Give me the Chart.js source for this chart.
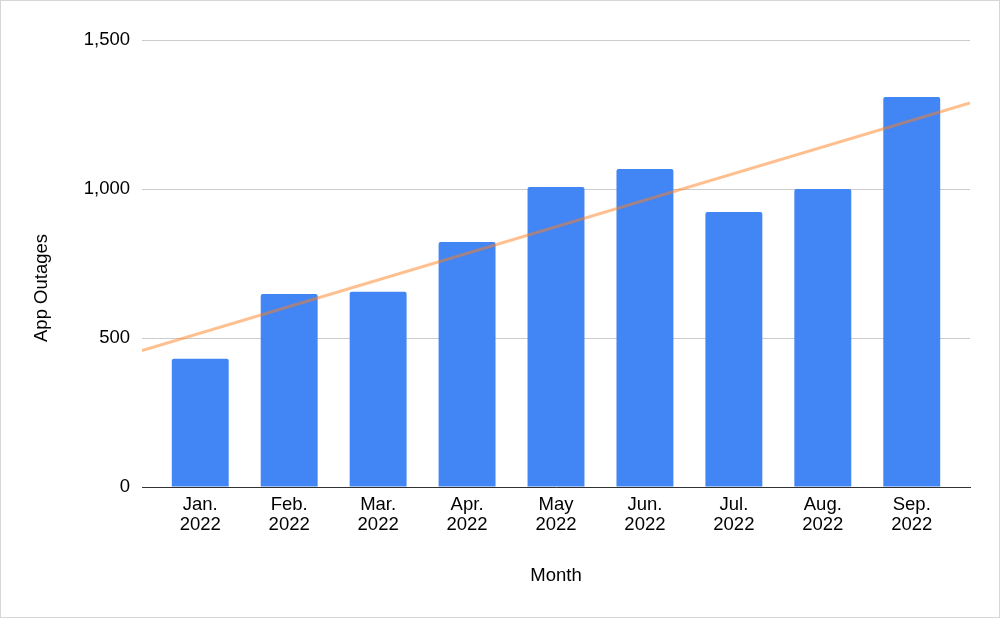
<!DOCTYPE html>
<html>
<head>
<meta charset="utf-8">
<script src="https://cdn.jsdelivr.net/npm/chart.js@4"></script>
<style>
  html, body { margin: 0; padding: 0; background: #fff; }
  .wrap { width: 1000px; height: 618px; box-sizing: border-box; border: 1px solid #d6d6d6; }
  canvas { display: block; }
</style>
</head>
<body>
<div class="wrap"><canvas id="outages" width="998" height="616"></canvas></div>
<script>
"use strict"

const months = [["Jan.", "2022"], ["Feb.", "2022"], ["Mar.", "2022"], ["Apr.", "2022"], ["May", "2022"],
                ["Jun.", "2022"], ["Jul.", "2022"], ["Aug.", "2022"], ["Sep.", "2022"]];
const outages = [430, 648, 655, 822, 1007, 1067, 923, 1000, 1309];
const yTicks = [0, 500, 1000, 1500];

// side room on the x axis, in month units
const xPad = 0.655;
const xMin = -xPad;
const xMax = outages.length - 1 + xPad;

// least squares trendline over the month index
function trend(values) {
    const n = values.length;
    const mx = (n - 1) / 2;
    const my = values.reduce((a, b) => a + b, 0) / n;
    let num = 0, den = 0;
    values.forEach((v, i) => { num += (i - mx) * (v - my); den += (i - mx) * (i - mx); });
    const slope = num / den;
    return x => my + slope * (x - mx);
}
const fit = trend(outages);
const trendPoints = [{ x: xMin, y: fit(xMin) }, { x: xMax, y: fit(xMax) }];
const barPoints = outages.map((v, i) => ({ x: i, y: v }));

Chart.defaults.font.family = "'Liberation Sans', Arial, sans-serif";
Chart.defaults.font.size = 18.5;
Chart.defaults.color = "#000";

// y title, centred on the plot plus the month labels
const yTitle = {
    id: "yTitle",
    afterDraw(chart) {
        const ctx = chart.ctx;
        const x = chart.scales.x;
        ctx.save();
        ctx.font = "18.5px 'Liberation Sans', Arial, sans-serif";
        ctx.fillStyle = "#000";
        ctx.textAlign = "center";
        ctx.textBaseline = "middle";
        ctx.translate(41, (chart.chartArea.top + x.top + 49) / 2);
        ctx.rotate(-Math.PI / 2);
        ctx.fillText("App Outages", 0, 0);
        ctx.restore();
    }
};

new Chart("outages", {
    data: {
        datasets: [{
            type: "line",
            data: trendPoints,
            borderColor: "rgba(255,128,30,0.5)",
            borderWidth: 3,
            pointRadius: 0,
            order: 0
        }, {
            type: "bar",
            data: barPoints,
            backgroundColor: "#4285f4",
            borderRadius: 2,
            borderSkipped: "bottom",
            grouped: false,
            barPercentage: 0.64,
            categoryPercentage: 1,
            order: 1
        }]
    },
    plugins: [yTitle],
    options: {
        responsive: false,
        animation: false,
        layout: { padding: { top: 39, right: 29, left: 0, bottom: 0 } },
        plugins: { legend: { display: false }, tooltip: { enabled: false } },
        scales: {
            x: {
                type: "linear",
                offset: false,
                min: xMin,
                max: xMax,
                afterBuildTicks: s => { s.ticks = months.map((m, i) => ({ value: i })); },
                grid: { display: false, drawTicks: false, offset: false },
                border: { color: "#333", width: 1 },
                ticks: { padding: 8, maxRotation: 0, autoSkip: false, font: { lineHeight: 1.08 },
                         callback: v => months[v] },
                title: { display: true, text: "Month", padding: { top: 0, bottom: 30 } },
                afterFit: s => { s.height = 130; }
            },
            y: {
                min: 0,
                max: 1500,
                afterBuildTicks: s => { s.ticks = yTicks.map(v => ({ value: v })); },
                grid: { color: "#cccccc", drawTicks: false },
                border: { display: false },
                ticks: { padding: 12, callback: v => v.toLocaleString("en-US") },
                afterFit: s => { s.width = 141; }
            }
        }
    }
});
</script>
</body>
</html>
